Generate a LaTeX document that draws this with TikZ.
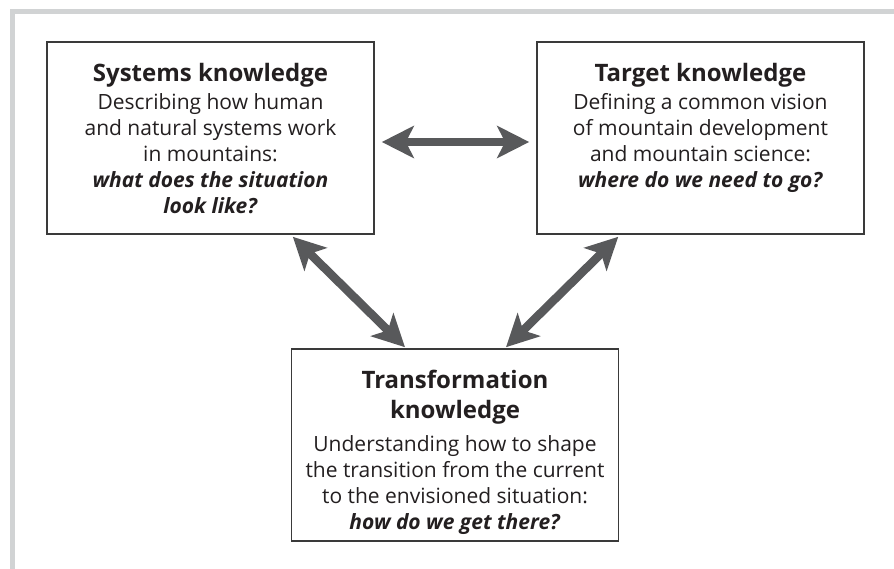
\documentclass[tikz,border=0pt]{standalone}
\usepackage{fontspec}
\setmainfont{Open Sans}
\usetikzlibrary{arrows.meta,calc}
\definecolor{framegray}{HTML}{D1D3D4}
\definecolor{arrowgray}{HTML}{58595B}
\definecolor{boxline}{HTML}{3A3A3A}
\definecolor{txt}{HTML}{231F20}
\begin{document}
\begin{tikzpicture}[x=1pt,y=-1pt,
  kbox/.style={draw=boxline,line width=1.6pt,minimum width=327pt,minimum height=192pt,inner sep=0pt},
  ktitle/.style={anchor=base,inner sep=0pt,text=txt,align=center,font=\fontsize{24}{30}\selectfont\bfseries},
  kbody/.style={anchor=north,inner sep=0pt,text=txt,align=center,font=\fontsize{21}{26}\selectfont},
  dbl/.style={draw=arrowgray,line width=8.5pt,{Stealth[length=32pt,width=32pt,inset=8pt]}-{Stealth[length=32pt,width=32pt,inset=8pt]}}
]
\useasboundingbox (0,0) rectangle (894,569);
\clip (0,0) rectangle (894,569);
\fill[white] (0,0) rectangle (894,569);
\draw[framegray,line width=5pt] (12.5,12) rectangle (920,600);

\node[kbox] (sys) at (210.5,138) {};
\node[kbox] (tgt) at (700.5,138) {};
\node[kbox] (tr) at (455,445) {};

\node[ktitle] (systitle) at ($(sys.north)+(0,40)$) {Systems knowledge};
\node[kbody] (sysbody) at ($(sys.north)+(0,52)$) {Describing how human\\and natural systems work\\in mountains:\\\textbf{\textit{what does the situation}}\\\textbf{\textit{look like?}}};

\node[ktitle] (tgttitle) at ($(tgt.north)+(0,40)$) {Target knowledge};
\node[kbody] (tgtbody) at ($(tgt.north)+(0,52)$) {Defining a common vision\\of mountain development\\and mountain science:\\\textbf{\textit{where do we need to go?}}};

\node[ktitle] (trtitle) at ($(tr.north)+(0,70)$) {Transformation\\knowledge};
\node[kbody] (trbody) at ($(tr.north)+(0,87)$) {Understanding how to shape\\the transition from the current\\to the envisioned situation:\\\textbf{\textit{how do we get there?}}};

\draw[dbl] ([xshift=7pt,yshift=-4pt]sys.east) -- ([xshift=-7pt,yshift=-4pt]tgt.west);
\draw[dbl] ([xshift=-82pt,yshift=-2pt]sys.south east) -- ([xshift=-50pt,yshift=1pt]tr.north);
\draw[dbl] ([xshift=82pt,yshift=-2pt]tgt.south west) -- ([xshift=51pt,yshift=1pt]tr.north);
\end{tikzpicture}
\end{document}
